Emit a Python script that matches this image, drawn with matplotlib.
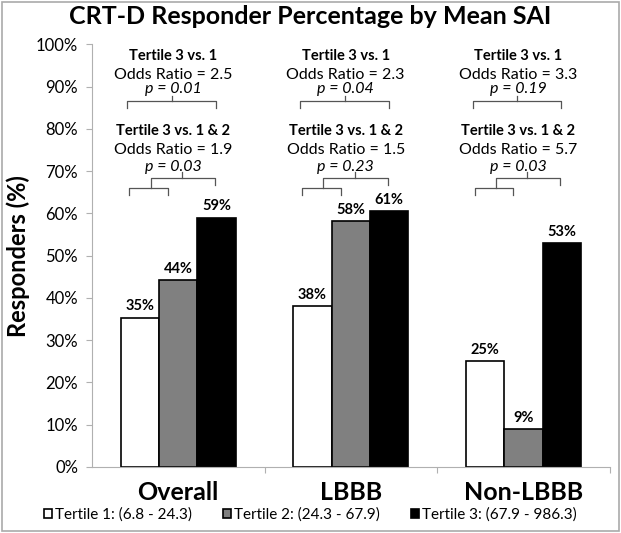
import numpy as np
import matplotlib.pyplot as plt
from matplotlib.patches import Rectangle

plt.rcParams['font.family'] = ['Lato', 'DejaVu Sans']

groups = ['Overall', 'LBBB', 'Non-LBBB']
tertiles = ['Tertile 1: (6.8 - 24.3)', 'Tertile 2: (24.3 - 67.9)', 'Tertile 3: (67.9 - 986.3)']
t1 = [35.3, 38.0, 25.0]
t2 = [44.2, 58.2, 9.0]
t3 = [59.0, 60.6, 52.9]
or_31 = ['2.5', '2.3', '3.3']
p_31 = ['0.01', '0.04', '0.19']
or_312 = ['1.9', '1.5', '5.7']
p_312 = ['0.03', '0.23', '0.03']

colors = ['white', '#808080', 'black']
width = 0.222
x = np.arange(len(groups))

fig = plt.figure(figsize=(6.21, 5.33), dpi=100)
ax = fig.add_axes([0.148, 0.124, 0.834, 0.793])

for k, vals in enumerate([t1, t2, t3]):
    bars = ax.bar(x + (k - 1) * width, vals, width, color=colors[k], edgecolor='black',
                  linewidth=1.2, label=tertiles[k], zorder=2)
    for b, v in zip(bars, vals):
        ax.text(b.get_x() + b.get_width() / 2, v + 1.0, f'{round(v)}%', ha='center', va='bottom',
                fontsize=10.5, fontweight='bold')

lc = '#555555'
for i in x:
    # Tertile 3 vs 1
    ax.text(i - 0.03, 97.2, 'Tertile 3 vs. 1', ha='center', va='center', fontsize=10.5, fontweight='bold')
    ax.text(i - 0.03, 92.7, f'Odds Ratio = {or_31[i]}', ha='center', va='center', fontsize=11.5)
    ax.text(i - 0.03, 89.4, f'p = {p_31[i]}', ha='center', va='center', fontsize=11.5, style='italic')
    ax.plot([i - 0.295, i - 0.295, i + 0.22, i + 0.22], [84.9, 86.5, 86.5, 84.9], color=lc, lw=0.9)
    ax.plot([i - 0.035, i - 0.035], [86.5, 87.7], color=lc, lw=0.9)
    # Tertile 3 vs 1 & 2
    ax.text(i - 0.03, 79.4, 'Tertile 3 vs. 1 & 2', ha='center', va='center', fontsize=10.5, fontweight='bold')
    ax.text(i - 0.03, 74.9, f'Odds Ratio = {or_312[i]}', ha='center', va='center', fontsize=11.5)
    ax.text(i - 0.03, 70.9, f'p = {p_312[i]}', ha='center', va='center', fontsize=11.5, style='italic')
    ax.plot([i - 0.283, i - 0.283, i - 0.058, i - 0.058], [64.3, 66.0, 66.0, 64.3], color=lc, lw=0.9)
    ax.plot([i - 0.16, i - 0.16, i + 0.214, i + 0.214], [66.0, 68.3, 68.3, 66.7], color=lc, lw=0.9)
    ax.plot([i + 0.023, i + 0.023], [68.3, 69.8], color=lc, lw=0.9)

ax.set_xlim(-0.5, 2.5)
ax.set_ylim(0, 100)
ax.set_yticks(np.arange(0, 101, 10))
ax.set_yticklabels([f'{v}%' for v in range(0, 101, 10)], fontsize=12)
ax.set_xticks([0.5, 1.5, 2.5], minor=False)
ax.set_xticklabels([])
ax.tick_params(axis='x', length=4, color='#b0b0b0')
ax.tick_params(axis='y', length=4, color='#b0b0b0', pad=6)
for i, g in enumerate(groups):
    ax.text(i, -3.3, g, ha='center', va='top', fontsize=18, fontweight='bold')
for s in ['top', 'right']:
    ax.spines[s].set_visible(False)
for s in ['left', 'bottom']:
    ax.spines[s].set_color('#b0b0b0')
ax.set_ylabel('Responders (%)', fontsize=17, fontweight='bold', labelpad=4)

fig.suptitle('CRT-D Responder Percentage by Mean SAI', x=0.5, y=0.99, fontsize=18, fontweight='bold')

leg = fig.legend(loc='lower center', bbox_to_anchor=(0.5, -0.005), ncol=3, frameon=False, fontsize=11,
                 handlelength=0.55, handleheight=0.55, handletextpad=0.2, columnspacing=2.0)

fig.patches.append(Rectangle((0.003, 0.003), 0.994, 0.994, transform=fig.transFigure,
                             fill=False, edgecolor='#aaaaaa', lw=1.2))

fig.savefig('out.png', dpi=100)
